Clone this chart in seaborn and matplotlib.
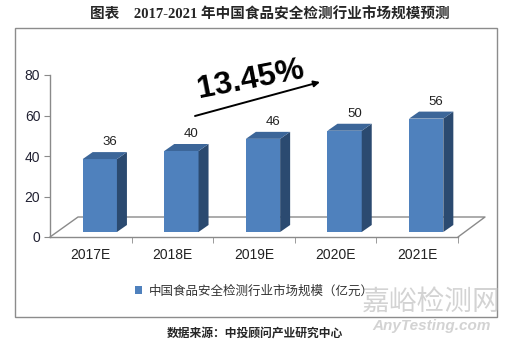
import matplotlib
matplotlib.use("Agg")
import matplotlib.pyplot as plt
import seaborn as sns
import pandas as pd
from matplotlib.patches import Polygon, Rectangle, Patch

years = ["2017E", "2018E", "2019E", "2020E", "2021E"]
values = [36, 40, 46, 50, 56]
yticks = [0, 20, 40, 60, 80]
series_name = "中国食品安全检测行业市场规模（亿元）"
title = "图表　2017-2021 年中国食品安全检测行业市场规模预测"
growth_label = "13.45%"
source = "数据来源：中投顾问产业研究中心"

sns.set_style("white")
plt.rcParams["font.family"] = ["Liberation Sans", "Noto Sans CJK SC", "DejaVu Sans"]

W, H = 513, 343
fig = plt.figure(figsize=(W / 100, H / 100), dpi=100)
fx = lambda px: px / W
fy = lambda py: 1 - py / H

ax_l, ax_r, ax_b, ax_t = 50, 458, 237, 75
ax = fig.add_axes([fx(ax_l), fy(ax_b), (ax_r - ax_l) / W, (ax_b - ax_t) / H])
ax.patch.set_alpha(0)

front = "#4F81BD"
side = "#2B4A70"
top = "#3C6699"
grey = "#8A8A8A"

df = pd.DataFrame({"year": years, "value": values})
sns.barplot(data=df, x="year", y="value", color=front, width=0.42,
            saturation=1, ax=ax, zorder=3)
ax.set_xlim(-0.5, len(years) - 0.5)
ax.set_ylim(yticks[0], yticks[-1])

pxx = (ax_r - ax_l) / (len(years))
pxy = (ax_b - ax_t) / (yticks[-1] - yticks[0])

ox_px, oy_px = 9, 5
dx_px, dy_px = 10, 7
ox, oy = ox_px / pxx, oy_px / pxy
dx, dy = dx_px / pxx, dy_px / pxy

fl_x, fl_y = 28 / pxx, 20 / pxy
x0, x1 = -0.5, len(years) - 0.5
ax.plot([x0, x0 + fl_x, x1 + fl_x - 1 / pxx, x1], [0, fl_y, fl_y, 0],
        color=grey, lw=1, clip_on=False, zorder=1)

for p, v in zip(ax.patches, values):
    bx, bw, bh = p.get_x(), p.get_width(), p.get_height()
    p.set_x(bx + ox)
    p.set_y(oy)
    p.set_edgecolor("none")
    l, r = bx + ox, bx + ox + bw
    b, t = oy, oy + bh
    ax.add_patch(Polygon([(r, b), (r + dx, b + dy), (r + dx, t + dy), (r, t)],
                         closed=True, facecolor=side, edgecolor="none",
                         zorder=3, clip_on=False))
    ax.add_patch(Polygon([(l, t), (r, t), (r + dx, t + dy), (l + dx, t + dy)],
                         closed=True, facecolor=top, edgecolor="none",
                         zorder=3, clip_on=False))
    ax.text((l + r) / 2 + dx, t + dy + 4 / pxy, str(v), ha="center", va="bottom",
            fontsize=9.5, color="#222222", zorder=4)

for s in ["top", "right"]:
    ax.spines[s].set_visible(False)
for s in ["left", "bottom"]:
    ax.spines[s].set_color(grey)
    ax.spines[s].set_linewidth(1)
ax.set_yticks(yticks)
ax.set_yticklabels([str(t) for t in yticks])
ax.tick_params(axis="y", left=True, length=4, color=grey, pad=3,
               labelsize=10, labelcolor="#222233")
ax.set_xticks(range(len(years)))
ax.set_xticklabels(years)
ax.tick_params(axis="x", bottom=False, length=0, pad=8, labelsize=10,
               labelcolor="#222222")
ax.set_xticks([i - 0.5 for i in range(1, len(years) + 1)], minor=True)
ax.tick_params(axis="x", which="minor", bottom=True, length=4, color=grey)
ax.set_xlabel("")
ax.set_ylabel("")
ax.grid(False)

ax.annotate("", xy=(fx(320), fy(82)), xytext=(fx(195), fy(116)),
            xycoords="figure fraction", textcoords="figure fraction",
            arrowprops=dict(arrowstyle="-|>", color="black", lw=1.4,
                            mutation_scale=9, shrinkA=0, shrinkB=0))
fig.text(fx(251), fy(80), growth_label, fontsize=23, fontweight="bold",
         rotation=11, ha="center", va="center", color="black",
         rotation_mode="anchor")

fig.add_artist(Rectangle((fx(15), fy(317)), (497 - 15) / W, (317 - 28) / H,
                         transform=fig.transFigure, fill=False,
                         edgecolor="#8C8C8C", lw=1))

fig.text(fx(270), fy(14), title, ha="center", va="center", fontsize=10.5,
         fontweight="bold", family=["Liberation Serif", "Noto Sans CJK SC"])

fig.legend(handles=[Patch(facecolor=front, edgecolor="none")], labels=[series_name],
           loc="center", bbox_to_anchor=(fx(254), fy(291)), frameon=False,
           handlelength=0.6, handleheight=0.6, handletextpad=0.5,
           prop={"family": ["Noto Sans CJK SC"], "size": 9}, labelcolor="#333333")

fig.text(fx(255), fy(333), source, ha="center", va="center", fontsize=8.5,
         fontweight="bold", family=["Noto Sans CJK SC"])

fig.text(fx(431), fy(302), "嘉峪检测网", ha="center", va="center", fontsize=20,
         color="#C8C8C8", family=["Noto Sans CJK SC"], alpha=0.8)
fig.text(fx(431), fy(326), "AnyTesting.com", ha="center", va="center", fontsize=11,
         color="#C8C8C8", fontweight="bold", style="italic", alpha=0.8)

fig.savefig("out.png", dpi=100)
